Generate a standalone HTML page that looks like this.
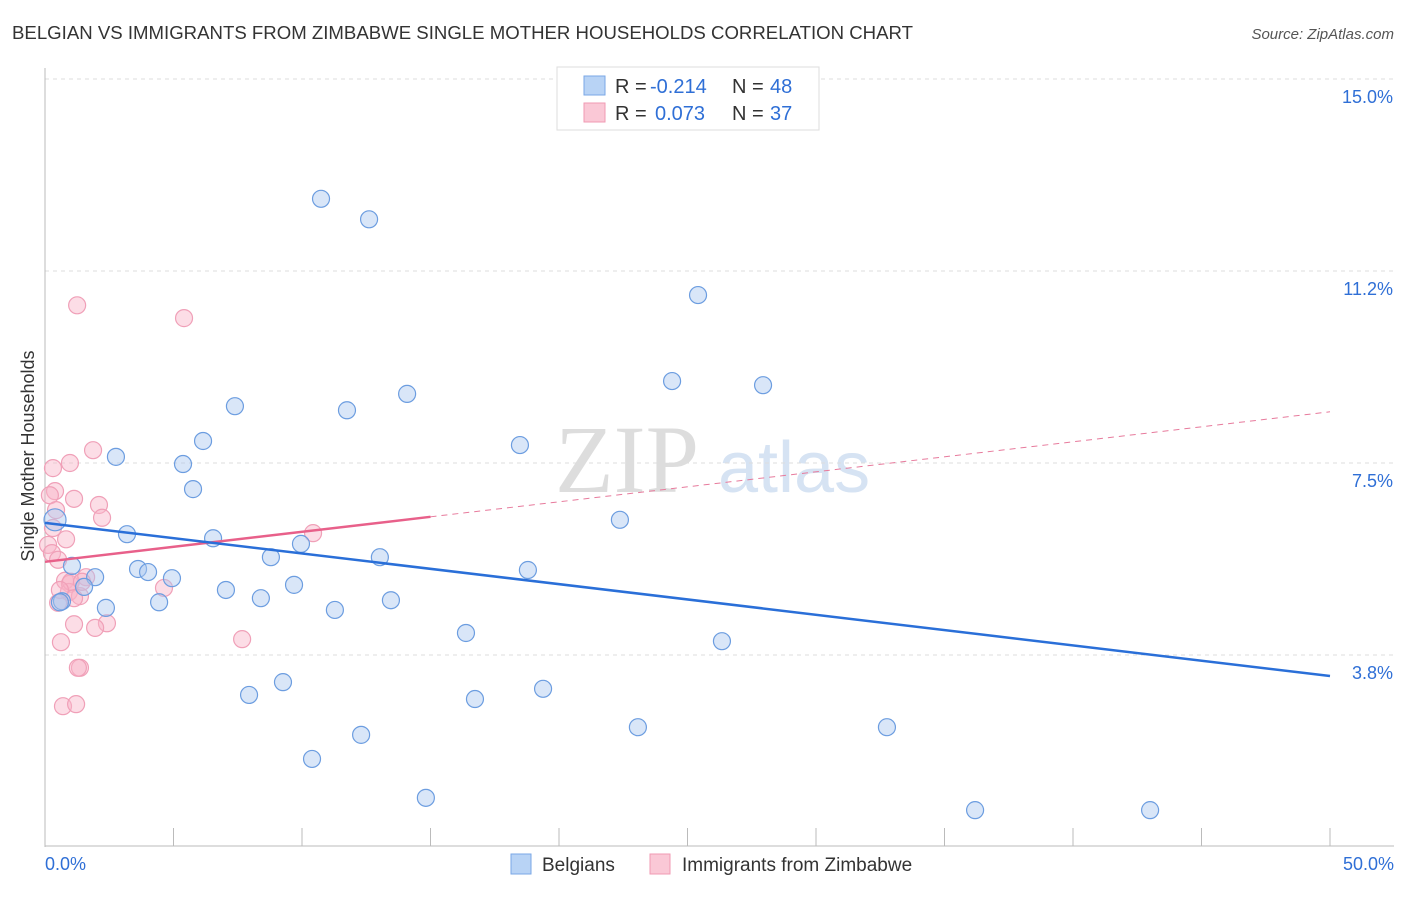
<!DOCTYPE html>
<html><head><meta charset="utf-8"><style>
body{margin:0;background:#fff;font-family:"Liberation Sans",sans-serif;}
</style></head><body>
<svg width="1406" height="892" xmlns="http://www.w3.org/2000/svg" id="chart">
<text x="12" y="39" font-size="18" fill="#333" textLength="901" lengthAdjust="spacingAndGlyphs">BELGIAN VS IMMIGRANTS FROM ZIMBABWE SINGLE MOTHER HOUSEHOLDS CORRELATION CHART</text>
<text x="1394" y="39" font-size="15" fill="#555" text-anchor="end" font-style="italic">Source: ZipAtlas.com</text>
<g><text x="555" y="492" font-size="96" fill="#ddd" font-family="Liberation Serif,serif">ZIP</text><text x="718" y="492" font-size="72" fill="#d6e3f3">atlas</text></g>
<g id="grid"></g><g id="axes"></g><g id="marks"></g>
<text transform="translate(34,456) rotate(-90)" font-size="18" fill="#333" text-anchor="middle">Single Mother Households</text>
<g>
<rect x="557" y="67" width="262" height="63" fill="#fff" stroke="#ddd"/>
<rect x="584" y="76" width="21" height="19" fill="#b8d3f5" stroke="#7aa7e6"/>
<rect x="584" y="103" width="21" height="19" fill="#fac8d6" stroke="#f09ab3"/>
<text x="615" y="93" font-size="20" fill="#333">R = <tspan fill="#2f6fd6" x="650">-0.214</tspan><tspan x="732">N = </tspan><tspan fill="#2f6fd6" x="770">48</tspan></text>
<text x="615" y="120" font-size="20" fill="#333">R = <tspan fill="#2f6fd6" x="655">0.073</tspan><tspan x="732">N = </tspan><tspan fill="#2f6fd6" x="770">37</tspan></text>
</g>
<g>
<rect x="511" y="854" width="20" height="20" fill="#b8d3f5" stroke="#7aa7e6"/>
<text x="542" y="871" font-size="19" fill="#333">Belgians</text>
<rect x="650" y="854" width="20" height="20" fill="#fac8d6" stroke="#f09ab3"/>
<text x="682" y="871" font-size="19" fill="#333">Immigrants from Zimbabwe</text>
</g>
</svg>
<script>
const yTicks=[3.75,7.5,11.25,15];
const yTickLabels=["3.8%","7.5%","11.2%","15.0%"];
const xTickLabels=["0.0%","50.0%"];
const belgX=[10.74,12.61,25.41,24.40,27.94,14.09,7.39,11.75,6.15,18.48,2.76,5.37,5.76,22.37,0.39,3.19,6.54,9.96,8.79,13.03,1.05,3.62,4.01,18.79,1.95,4.94,1.52,9.69,7.04,8.40,4.44,13.46,2.37,11.28,0.66,0.58,16.38,26.34,9.26,7.94,19.38,16.73,23.07,32.76,12.30,10.39,14.82,36.19,43.00];
const belgY=[12.66,12.26,10.78,9.10,9.02,8.85,8.61,8.53,7.93,7.85,7.62,7.48,6.99,6.39,6.39,6.11,6.03,5.92,5.66,5.66,5.49,5.43,5.37,5.41,5.27,5.25,5.08,5.12,5.02,4.86,4.78,4.82,4.67,4.63,4.80,4.78,4.18,4.02,3.22,2.97,3.09,2.89,2.34,2.34,2.19,1.72,0.96,0.72,0.72];
const zimX=[1.25,5.41,1.87,0.97,0.31,0.39,1.13,0.19,2.10,2.22,0.43,0.31,10.43,0.82,0.12,0.27,0.51,1.60,0.78,0.97,4.63,0.93,1.36,1.13,0.51,2.41,1.95,1.13,7.67,0.62,1.36,1.28,0.70,1.21,1.01,1.44,0.58];
const zimY=[10.58,10.33,7.75,7.50,7.40,6.95,6.80,6.87,6.68,6.43,6.58,6.23,6.13,6.01,5.90,5.74,5.61,5.27,5.20,5.14,5.06,4.98,4.90,4.86,4.77,4.37,4.28,4.35,4.06,4.00,3.50,3.50,2.75,2.79,5.18,5.18,5.02];
const belgTrend=[6.33,3.34];
const zimTrend=[5.57,8.50];
const NS="http://www.w3.org/2000/svg";
const sx=v=>45+v/50*1285, sy=v=>847-v/3.75*192;
function mk(t,a,p){const e=document.createElementNS(NS,t);for(const k in a)e.setAttribute(k,a[k]);p.appendChild(e);return e;}
const grid=document.getElementById('grid'),axes=document.getElementById('axes'),marks=document.getElementById('marks');
yTicks.forEach((t,i)=>{
 const l=mk('line',{x1:45,x2:1394,y1:sy(t),y2:sy(t),stroke:'#ddd','stroke-dasharray':'4,4'},grid);
 
 
 const tx=mk('text',{x:1393,y:sy(t)+24,'font-size':18,fill:'#2f6fd6','text-anchor':'end'},axes);tx.textContent=yTickLabels[i];
 
 
});
const ax=mk('line',{x1:45,x2:45,y1:68,y2:847,stroke:'#bbb'},axes);


const bx=mk('line',{x1:45,x2:1394,y1:846,y2:846,stroke:'#bbb'},axes);


for(let i=0;i<=10;i++){const t=mk('line',{x1:sx(i*5),x2:sx(i*5),y1:828,y2:846,stroke:'#bbb'},axes);
 
 }
[[0,'start',45],[50,'end',1394]].forEach((d,i)=>{const t=mk('text',{x:d[2],y:870,'font-size':18,fill:'#2f6fd6','text-anchor':d[1]},axes);t.textContent=xTickLabels[i];
 
 });
zimX.forEach((x,i)=>{const c=mk('circle',{cx:sx(x),cy:sy(zimY[i]),r:8.5,fill:'rgba(248,180,200,0.45)',stroke:'#f0a0b8','stroke-width':1.2},marks);
 
 });
belgX.forEach((x,i)=>{const c=mk('circle',{cx:sx(x),cy:sy(belgY[i]),r:i==14?11:8.5,fill:'rgba(170,200,240,0.45)',stroke:'#6c9de0','stroke-width':1.2},marks);
 
 });
const zt=x=>zimTrend[0]+(zimTrend[1]-zimTrend[0])*x/50;
const l1=mk('line',{x1:sx(15),y1:sy(zt(15)),x2:sx(50),y2:sy(zt(50)),stroke:'#e77a9c','stroke-width':1,'stroke-dasharray':'6,5'},marks);


const l2=mk('line',{x1:sx(0),y1:sy(zt(0)),x2:sx(15),y2:sy(zt(15)),stroke:'#e8608a','stroke-width':2.5},marks);


const l3=mk('line',{x1:sx(0),y1:sy(belgTrend[0]),x2:sx(50),y2:sy(belgTrend[1]),stroke:'#2a6fd8','stroke-width':2.5},marks);


</script>
</body></html>
